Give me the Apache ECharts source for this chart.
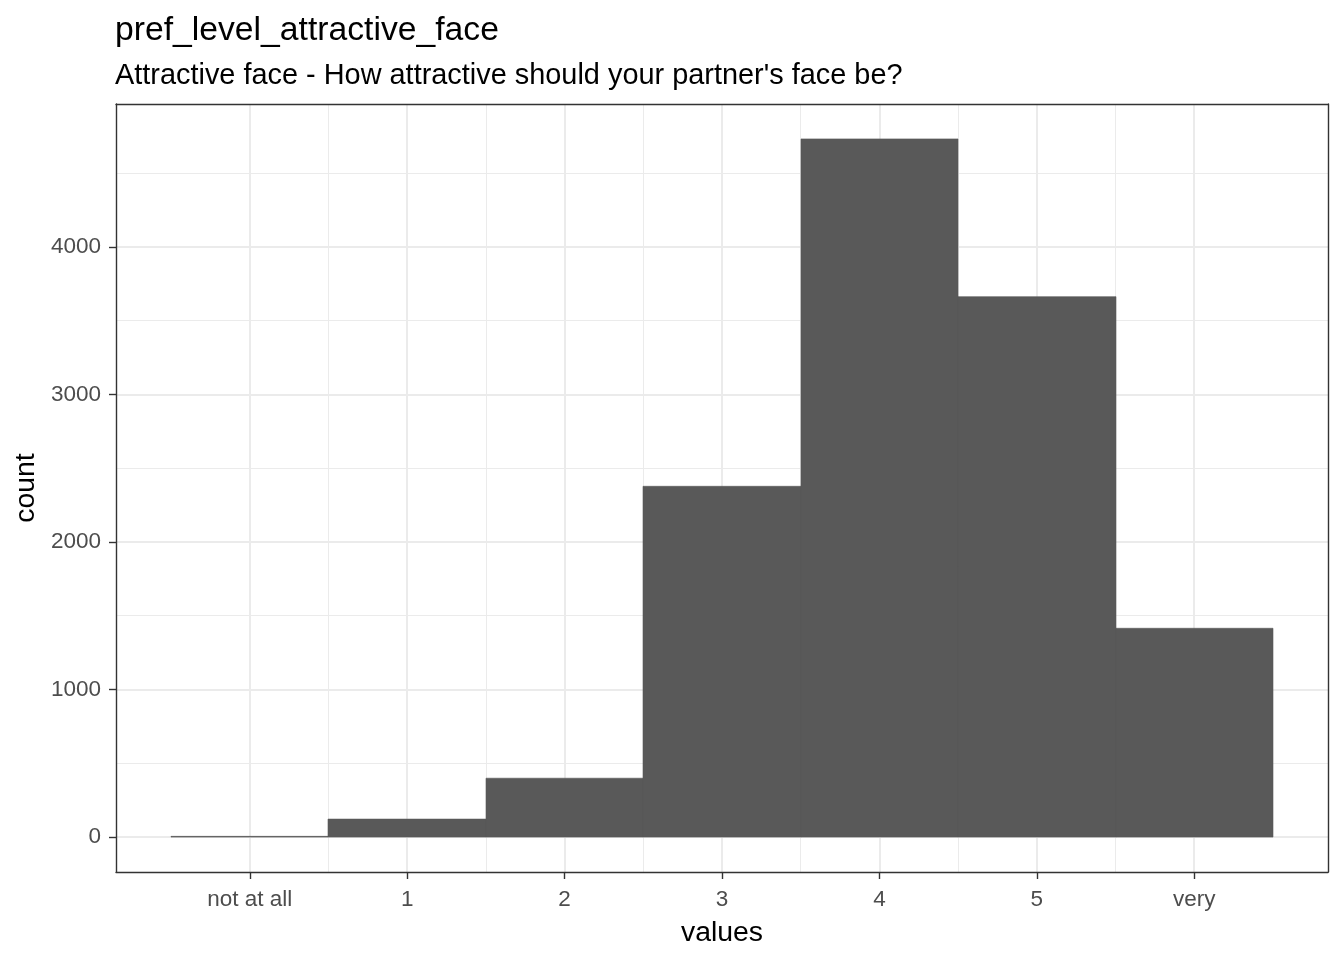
<!DOCTYPE html>
<html>
<head>
<meta charset="utf-8">
<script src="https://cdn.jsdelivr.net/npm/echarts@6/dist/echarts.min.js"></script>
<style>
html,body{margin:0;padding:0;background:#fff;}
#chart{width:1344px;height:960px;}
</style>
</head>
<body>
<div id="chart"></div>
<script>
// ---- data ----
const categories = ["not at all", "1", "2", "3", "4", "5", "very"];
const counts = [5, 122, 399, 2377, 4731, 3662, 1415];
const xTicks = [0, 1, 2, 3, 4, 5, 6];
const xMinorTicks = [0.5, 1.5, 2.5, 3.5, 4.5, 5.5];
const yTicks = [0, 1000, 2000, 3000, 4000];
const yMinorTicks = [500, 1500, 2500, 3500, 4500];

const FONT = "Liberation Sans, Arial, sans-serif";
const barData = counts.map((c, i) => [xTicks[i], c]);

// ggplot-like expansion: 5% of data range
const xLo = -0.5, xHi = 6.5;
const xPad = (xHi - xLo) * 0.05;
const yMaxData = Math.max.apply(null, counts);
const yPad = yMaxData * 0.05;

const chart = echarts.init(document.getElementById('chart'), null, {renderer: 'canvas'});

const borderCol = '#333333';
const gridCol = '#EBEBEB';

const option = {
  backgroundColor: '#ffffff',
  animation: false,
  title: [
    {text: 'pref_level_attractive_face', left: 110, top: 9,
     textStyle: {fontFamily: FONT, fontSize: 33.7, fontWeight: 'normal', color: '#000'}},
    {text: "Attractive face - How attractive should your partner's face be?", left: 110, top: 57,
     textStyle: {fontFamily: FONT, fontSize: 28.9, fontWeight: 'normal', color: '#000'}}
  ],
  grid: {left: 116, right: 16, top: 104, bottom: 88, containLabel: false},
  xAxis: [
    {
      type: 'value', min: xLo - xPad, max: xHi + xPad, position: 'bottom',
      name: 'values', nameLocation: 'middle', nameGap: 47,
      nameTextStyle: {fontFamily: FONT, fontSize: 28.4, color: '#000'},
      axisLine: {show: true, onZero: false, lineStyle: {color: borderCol, width: 1.4}},
      axisTick: {show: true, length: 7, customValues: xTicks, lineStyle: {color: borderCol, width: 1.4}},
      axisLabel: {show: true, customValues: xTicks, margin: 16,
        fontFamily: FONT, fontSize: 22.5, color: '#4D4D4D',
        formatter: v => categories[Math.round(v)]},
      splitLine: {show: true, lineStyle: {color: gridCol, width: 2}}
    },
    {
      type: 'value', min: xLo - xPad, max: xHi + xPad, position: 'top',
      axisLine: {show: true, onZero: false, lineStyle: {color: borderCol, width: 1.4}},
      axisTick: {show: false, customValues: xMinorTicks},
      axisLabel: {show: false, customValues: xMinorTicks},
      splitLine: {show: true, lineStyle: {color: gridCol, width: 1}}
    }
  ],
  yAxis: [
    {
      type: 'value', min: -yPad, max: yMaxData + yPad, position: 'left',
      name: 'count', nameLocation: 'middle', nameGap: 69, nameRotate: 90,
      nameTextStyle: {fontFamily: FONT, fontSize: 28.4, color: '#000'},
      axisLine: {show: true, onZero: false, lineStyle: {color: borderCol, width: 1.4}},
      axisTick: {show: true, length: 7, customValues: yTicks, lineStyle: {color: borderCol, width: 1.4}},
      axisLabel: {show: true, customValues: yTicks, margin: 15,
        fontFamily: FONT, fontSize: 22.5, color: '#4D4D4D',
        formatter: v => String(v)},
      splitLine: {show: true, lineStyle: {color: gridCol, width: 2}}
    },
    {
      type: 'value', min: -yPad, max: yMaxData + yPad, position: 'right',
      axisLine: {show: true, onZero: false, lineStyle: {color: borderCol, width: 1.4}},
      axisTick: {show: false, customValues: yMinorTicks},
      axisLabel: {show: false, customValues: yMinorTicks},
      splitLine: {show: true, lineStyle: {color: gridCol, width: 1}}
    }
  ],
  series: [
    {
      type: 'custom',
      xAxisIndex: 0, yAxisIndex: 0,
      data: barData,
      renderItem: function (params, api) {
        const x = api.value(0), y = api.value(1);
        const p0 = api.coord([x - 0.5, 0]);
        const p1 = api.coord([x + 0.5, y]);
        const x0 = Math.round(p0[0]), x1 = Math.round(p1[0]);
        return {
          type: 'rect',
          shape: {x: x0, y: p1[1], width: x1 - x0, height: p0[1] - p1[1]},
          style: {fill: '#595959', stroke: '#595959', lineWidth: 0.6}
        };
      }
    }
  ]
};
chart.setOption(option);
</script>
</body>
</html>
